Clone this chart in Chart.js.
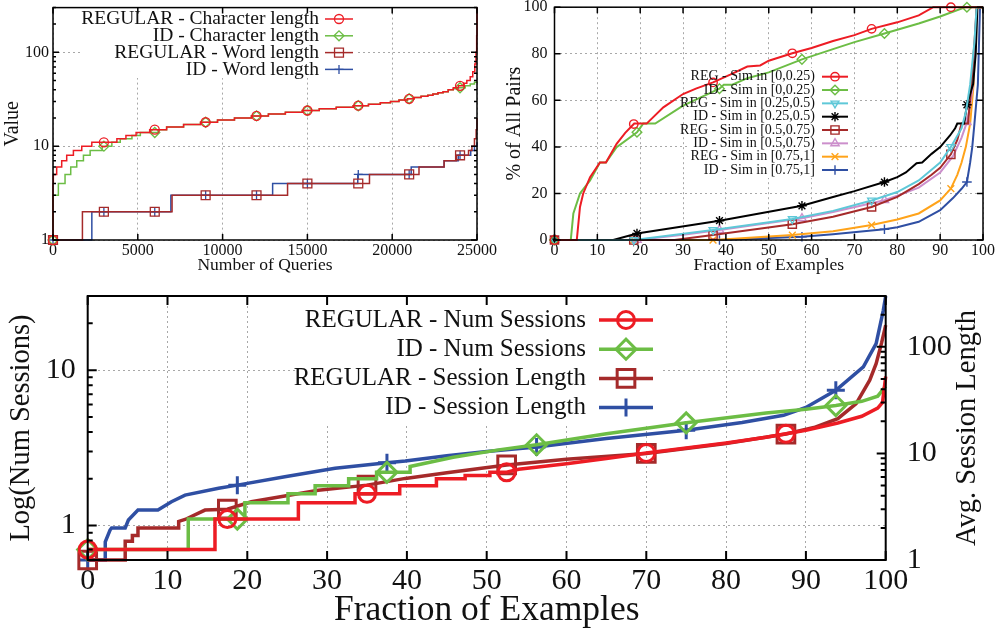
<!DOCTYPE html>
<html>
<head>
<meta charset="utf-8">
<script src="https://cdn.jsdelivr.net/npm/chart.js@4.4.1/dist/chart.umd.min.js"></script>
<style>
  html, body { margin: 0; padding: 0; background: #fff; }
  #wrap { position: relative; width: 1007px; height: 634px; overflow: hidden; }
  .pane { position: absolute; }
</style>
</head>
<body>
<div id="wrap">
  <div class="pane" style="left:0;top:0;width:500px;height:280px"><canvas id="cLen"></canvas></div>
  <div class="pane" style="left:500px;top:0;width:507px;height:280px"><canvas id="cSim"></canvas></div>
  <div class="pane" style="left:0;top:280px;width:1007px;height:354px"><canvas id="cSess"></canvas></div>
</div>
<script>
// --- query length CDF (top left) ---
const lenMarks = [0, 3000, 6000, 9000, 12000, 15000, 18000, 21000, 24000];
const regCharX = [0,0,20,217,513,808,1203,1696,2288,3000,3767,4300,4900,5700,6000,6700,7700,8700,9000,9700,10700,11700,12000,12700,13700,14700,15000,15700,16700,17700,18000,18600,19300,19900,20400,20900,21000,21300,21700,22100,22400,22700,23000,23300,23600,23900,24000,24200,24400,24600,24750,24870,24940,24980,25000];
const regCharY = [1,4,5,6,7,8,9,10,11,11,12,13,14,15,15,16,17,18,18,19,20,21,21,22,23,24,24,25,26,27,27,28,29,30,31,32,32,33,34,35,36,37,38,40,42,44,44,47,50,55,62,75,100,150,300];
const idCharX = [0,0,316,710,1045,1400,1795,2190,2900,3000,3470,3965,4655,5150,6000,6200,6700,7700,8700,9000,9700,10700,11700,12000,12700,13700,14700,15000,15700,16700,17700,18000,18600,19300,19900,20400,20900,21000,21300,21700,22100,22400,22700,23000,23300,23600,23900,24000,24300,24600,24850,25000];
const idCharY = [1,3,4,5,6,7,8,9,10,10,11,12,13,14,14,15,16,17,18,18,19,20,21,21,22,23,24,24,25,26,27,27,28,29,30,31,32,32,33,34,35,36,37,38,40,41,42,42,44,46,48,49];
const regWordX = [0,1735,3000,6000,7020,9000,12000,13830,15000,18000,18660,21000,21580,23060,23790,24000,24500,24700,24850,24950,25000];
const regWordY = [1,2,2,2,3,3,3,4,4,4,5,5,6,7,8,8,9,10,12,15,20];
const idWordX = [0,2290,3000,6000,6950,9000,12000,12950,15000,17970,18000,21000,21120,23060,23900,24000,24630,24850,25000];
const idWordY = [1,2,2,2,3,3,3,4,4,5,5,5,6,7,8,8,9,10,11];
const lenYTicks = [1, 10, 100];

// --- similarity of pairs (top right) ---
const regMarks = [0, 18.5, 37, 55.5, 74, 92.5];
const idMarks = [0, 19.25, 38.5, 57.75, 77, 96.25];
const regSimAX = [0,5.2,5.95,6.7,8.3,10.6,12,14.5,16.5,18.5,18.6,21.5,25.4,30,33,37,41,45,48,50,55.5,60,65,70,74,80,85,88.4,92.5,100];
const regSimAY = [0,0,14.2,20,27,33.3,33.3,41.3,46,49.8,50,50,57,62.7,65,67.7,71,74.5,75,77,80.2,82.5,85.5,88,90.7,93.5,96.5,100,100,100];
const idSimAX = [0,3.8,4.4,5.95,8.3,10.6,12,14.5,19.25,20.7,23.5,30,35,38.5,39.5,41.5,45,50,57.75,65,70,77,85,90,95.8,96.25,100];
const idSimAY = [0,0,11.4,20,25.6,33.3,33.3,39.9,46.3,50,50,57.7,62,65,66.7,66.7,69.5,72,77.6,82,85,88.7,93,96,100,100,100];
const regSimBX = [0,18.5,37,55.5,65,74,80,85,90,92.5,95,96,97,98,98.5,100];
const regSimBY = [0,0,4.3,9,12.5,17,20.6,25.6,33.3,40,48,55,66.7,85,100,100];
const idSimBX = [0,13.7,19.25,38.5,57.75,65,70,77,80,82,84.5,85.8,88,90,92.3,93.5,94,95.6,96.25,97.7,98.3,98.7,100];
const idSimBY = [0,0,2.8,8.3,14.7,18.5,21,24.9,27,29,33,33.3,37,39.9,44.9,48,50,50,58.1,67,80,100,100];
const regSimCX = [0,18.5,28,37,55.5,65,74,80,85,88,90,92.5,94,95,96.5,97.3,98.2,98.5,100];
const regSimCY = [0,0,0,2.1,6.8,10,14.2,18.5,24,28,31,36.8,43,50,50,66.7,90,100,100];
const idSimCX = [0,19.25,30,38.5,57.75,65,77,80,85,90,93,95,96.25,97,97.7,98.5,100];
const idSimCY = [0,0,2.2,4.3,9.3,12,17.1,19,22.5,29,36,44,50.6,58,66.7,100,100];
const regSimDX = [0,18.5,37,40,55.5,65,74,80,85,90,92.5,94,95,96,97,97.8,98.5,100];
const regSimDY = [0,0,0,0.3,2.1,3.8,6.4,8.8,11.4,17,22.1,28,33.3,40,50,66.7,100,100];
const idSimDX = [0,19.25,38.5,57.75,65,77,80,85,90,93,95,96.25,97,97.5,98,98.8,99.3,100];
const idSimDY = [0,0,0,1.4,2.5,4.6,5.5,7.8,12.8,18,22,24.9,33.3,40,50,66.7,100,100];

// --- sessions (bottom) ---
const sessRegMarks = [0, 17.5, 35, 52.5, 70, 87.5];
const sessIdMarks = [0, 18.75, 37.5, 56.25, 75, 93.75];
const regNumX = [0,15.95,15.95,17.5,26.4,26.4,33.5,33.5,35,39.1,39.1,43.7,43.7,47.3,47.3,50.4,50.4,52.5,54,60,65,70,75,80,85,87.5,90,94,97,99,99.6,100];
const regNumY = [0.7,0.7,1.1,1.1,1.1,1.4,1.4,1.6,1.6,1.6,1.8,1.8,2.0,2.0,2.1,2.1,2.2,2.2,2.3,2.5,2.7,2.93,3.15,3.4,3.7,3.9,4.1,4.57,5.05,5.7,6.2,9.1];
const idNumX = [0,12.6,12.6,18.75,19.7,19.7,25.1,25.1,28.5,28.5,32.7,32.7,36.2,36.2,37.5,40.4,40.4,45.8,51.7,56.25,65,75,85,90,93.75,97,99,100];
const idNumY = [0.7,0.7,1.1,1.1,1.1,1.4,1.4,1.6,1.6,1.8,1.8,2.0,2.0,2.2,2.2,2.2,2.4,2.75,3.08,3.31,3.9,4.58,5.3,5.6,5.92,6.3,6.8,7.9];
const regLenX = [0,4.7,4.7,5.6,5.6,6.3,6.3,11.4,11.4,12.2,14.7,17.5,20.5,24.7,28.9,35,39.8,45,52.5,60,70,80,87.5,91,94,96.3,98,98.8,99.5,100];
const regLenY = [1,1,1.5,1.5,1.7,1.7,2,2,2.3,2.4,2.94,3.0,3.52,3.98,4.52,5.04,5.83,6.6,7.8,8.8,10,12.4,15.2,17.5,21.2,29.4,48.6,69.6,110,160];
const idLenX = [0,2.2,2.2,2.8,3,4.7,5.1,6.3,8.8,10.5,12.2,16.4,18.75,24.7,31,37.5,39.8,45,50,56.25,65,75,82,87.2,90,93.75,97.2,98.8,99.7,100];
const idLenY = [1,1,1.48,1.91,2,2,2.37,2.94,2.94,3.52,4.06,4.72,5.04,6.03,7.25,8.17,8.5,9.5,10.4,11.5,13.8,16.5,19.5,22.8,27,39.1,65,107,220,300];
const sessLeftTicks = [1, 10];
const sessRightTicks = [1, 10, 100];

const SERIF = '"Liberation Serif", "DejaVu Serif", "Times New Roman", serif';
const INK = '#111';
const GRID = '#a8a8a8';
const RED = '#ed1c24', GREEN = '#6cbd45', BROWN = '#a52a2a', BLUE = '#2f4fa3';
const CYAN = '#5ec8d8', PINK = '#cc8fcc', ORANGE = '#ffa31a', BLACK = '#000';

// marker only on the first point sitting at one of the marker x positions
function markRadius(xs, marks, r) {
  return c => {
    const i = c.dataIndex, x = xs[i];
    return marks.includes(x) && (i === 0 || xs[i - 1] !== x) ? r : 0;
  };
}

function series(label, xs, ys, color, style, marks, o) {
  return {
    label,
    data: xs.map((x, i) => ({ x, y: ys[i] })),
    borderColor: color,
    backgroundColor: color,
    borderWidth: o.lw,
    stepped: o.stepped || false,
    tension: 0,
    fill: false,
    clip: false,
    pointStyle: style,
    pointRotation: o.rot || 0,
    pointRadius: markRadius(xs, marks, o.r),
    keyRadius: o.r,
    pointHoverRadius: 0,
    pointHitRadius: 0,
    pointBorderColor: color,
    pointBackgroundColor: 'rgba(0,0,0,0)',
    pointBorderWidth: o.pw,
    yAxisID: o.axis || 'y'
  };
}

function logMinor(min, max) {
  const out = [];
  for (let d = Math.floor(Math.log10(min)); d <= Math.ceil(Math.log10(max)); d++) {
    for (let m = 2; m <= 9; m++) {
      const v = m * Math.pow(10, d);
      if (v >= min * 0.999 && v <= max * 1.001) out.push(v);
    }
  }
  return out;
}

// keep the plot box where it is: no room reserved for end labels
function fixBox(size, isX) {
  return s => {
    if (isX) s.height = size; else s.width = size;
    s.paddingTop = 0; s.paddingBottom = 0; s.paddingLeft = 0; s.paddingRight = 0;
  };
}

// gnuplot style frame: border on top, ticks pointing inward
const gnuFrame = {
  id: 'gnuFrame',
  afterDatasetsDraw(chart, args, o) {
    const { ctx, chartArea: a } = chart;
    ctx.save();
    ctx.strokeStyle = '#000';
    ctx.lineWidth = o.lw;
    ctx.beginPath();
    Object.values(chart.scales).forEach(s => {
      const major = s.ticks.map(t => t.value);
      const minor = s.type === 'logarithmic' ? logMinor(s.min, s.max) : [];
      let sides;
      if (s.axis === 'x') sides = ['bottom', 'top'];
      else if (s.position === 'right') sides = ['right'];
      else sides = o.mirrorY ? ['left', 'right'] : ['left'];
      [[major, o.major], [minor, o.minor]].forEach(([vals, len]) => {
        vals.forEach(v => {
          const p = s.getPixelForValue(v);
          sides.forEach(side => {
            if (side === 'bottom') { ctx.moveTo(p, a.bottom); ctx.lineTo(p, a.bottom - len); }
            if (side === 'top') { ctx.moveTo(p, a.top); ctx.lineTo(p, a.top + len); }
            if (side === 'left') { ctx.moveTo(a.left, p); ctx.lineTo(a.left + len, p); }
            if (side === 'right') { ctx.moveTo(a.right, p); ctx.lineTo(a.right - len, p); }
          });
        });
      });
    });
    ctx.stroke();
    ctx.strokeRect(a.left, a.top, a.right - a.left, a.bottom - a.top);
    if (o.sideTitle) {
      const t = o.sideTitle;
      ctx.translate(t.x, t.y);
      ctx.rotate(-Math.PI / 2);
      ctx.font = t.font;
      ctx.fillStyle = INK;
      ctx.textAlign = 'center';
      ctx.textBaseline = 'middle';
      ctx.fillText(t.text, 0, 0);
    }
    ctx.restore();
  }
};

// key: right aligned text, line sample with marker, opaque box behind
const gnuKey = {
  id: 'gnuKey',
  beforeDatasetsDraw(chart, args, o) {
    const ctx = chart.ctx;
    ctx.save();
    ctx.fillStyle = '#fff';
    ctx.fillRect(o.box[0], o.box[1], o.box[2] - o.box[0], o.box[3] - o.box[1]);
    ctx.restore();
  },
  afterDatasetsDraw(chart, args, o) {
    const ctx = chart.ctx;
    chart.data.datasets.forEach((ds, i) => {
      const y = o.y0 + i * o.gap;
      ctx.save();
      ctx.font = o.font;
      ctx.fillStyle = INK;
      ctx.textAlign = 'right';
      ctx.textBaseline = 'middle';
      ctx.fillText(ds.label, o.textRight, y);
      ctx.strokeStyle = ds.borderColor;
      ctx.lineWidth = ds.borderWidth;
      ctx.beginPath();
      ctx.moveTo(o.x1, y);
      ctx.lineTo(o.x2, y);
      ctx.stroke();
      ctx.lineWidth = ds.pointBorderWidth;
      ctx.fillStyle = 'rgba(0,0,0,0)';
      Chart.helpers.drawPoint(ctx, {
        pointStyle: ds.pointStyle, rotation: ds.pointRotation,
        radius: ds.keyRadius, borderWidth: ds.pointBorderWidth
      }, (o.x1 + o.x2) / 2, y);
      ctx.restore();
    });
  }
};

function axisFont(size) { return { family: SERIF, size }; }
function gridOpts(show) {
  return { color: GRID, lineWidth: 1, drawTicks: false, drawOnChartArea: show !== false };
}
const noBorder = { display: false, dash: [2, 3] };

function baseOptions() {
  return {
    responsive: true,
    maintainAspectRatio: false,
    animation: false,
    devicePixelRatio: 1,
    events: [],
    plugins: { legend: { display: false }, tooltip: { enabled: false } }
  };
}

// ---------- top left ----------
const lenOpt = baseOptions();
lenOpt.layout = { padding: { left: 0, top: 5, right: 23, bottom: 0 } };
lenOpt.scales = {
  x: {
    type: 'linear', min: 0, max: 25000,
    ticks: { stepSize: 5000, padding: 1, maxRotation: 0, autoSkip: false, color: INK, font: axisFont(16), callback: v => String(v) },
    grid: gridOpts(), border: noBorder,
    title: { display: true, text: 'Number of Queries', color: INK, font: axisFont(17.5), padding: { top: 0, bottom: 4 } },
    afterFit: fixBox(40, true)
  },
  y: {
    type: 'logarithmic', min: 1, max: 300,
    afterBuildTicks: s => { s.ticks = lenYTicks.map(v => ({ value: v })); },
    ticks: { padding: 4, color: INK, font: axisFont(16), callback: v => String(v) },
    grid: gridOpts(), border: noBorder,
    title: { display: true, text: 'Value', color: INK, font: axisFont(20), padding: { top: 1, bottom: 0 } },
    afterFit: fixBox(53, false)
  }
};
lenOpt.plugins.gnuFrame = { lw: 1.5, major: 6, minor: 3, mirrorY: true };
lenOpt.plugins.gnuKey = { box: [83, 8, 357, 78], y0: 19, gap: 16.8, textRight: 319, x1: 325, x2: 353, font: '19.5px ' + SERIF };

const lenStyle = { lw: 1.5, pw: 1.3, stepped: true };
new Chart(document.getElementById('cLen'), {
  type: 'line',
  data: {
    datasets: [
      series('REGULAR - Character length', regCharX, regCharY, RED, 'circle', lenMarks, { ...lenStyle, r: 4.5 }),
      series('ID - Character length', idCharX, idCharY, GREEN, 'rectRot', lenMarks, { ...lenStyle, r: 5 }),
      series('REGULAR - Word length', regWordX, regWordY, BROWN, 'rect', lenMarks, { ...lenStyle, r: 6.3 }),
      series('ID - Word length', idWordX, idWordY, BLUE, 'cross', lenMarks, { ...lenStyle, r: 4.5 })
    ]
  },
  options: lenOpt,
  plugins: [gnuFrame, gnuKey]
});

// ---------- top right ----------
const simOpt = baseOptions();
simOpt.layout = { padding: { left: 0, top: 6, right: 24, bottom: 0 } };
simOpt.scales = {
  x: {
    type: 'linear', min: 0, max: 100,
    ticks: { stepSize: 10, padding: 1, maxRotation: 0, autoSkip: false, color: INK, font: axisFont(16), callback: v => String(v) },
    grid: gridOpts(), border: noBorder,
    title: { display: true, text: 'Fraction of Examples', color: INK, font: axisFont(17.5), padding: { top: 0, bottom: 4 } },
    afterFit: fixBox(40, true)
  },
  y: {
    type: 'linear', min: 0, max: 100,
    ticks: { stepSize: 20, padding: 7, color: INK, font: axisFont(16), callback: v => String(v) },
    grid: gridOpts(), border: noBorder,
    title: { display: true, text: '% of All Pairs', color: INK, font: axisFont(20), padding: { top: 3, bottom: 0 } },
    afterFit: fixBox(54.5, false)
  }
};
simOpt.plugins.gnuFrame = { lw: 1.5, major: 6, minor: 3, mirrorY: true };
simOpt.plugins.gnuKey = { box: [188, 68, 352, 178], y0: 76.7, gap: 13.33, textRight: 315, x1: 322, x2: 348, font: '14px ' + SERIF };

const simStyle = { lw: 2, pw: 1.4 };
new Chart(document.getElementById('cSim'), {
  type: 'line',
  data: {
    datasets: [
      series('REG - Sim in [0,0.25)', regSimAX, regSimAY, RED, 'circle', regMarks, { ...simStyle, r: 4.2 }),
      series('ID - Sim in [0,0.25)', idSimAX, idSimAY, GREEN, 'rectRot', idMarks, { ...simStyle, r: 4.8 }),
      series('REG - Sim in [0.25,0.5)', regSimBX, regSimBY, CYAN, 'triangle', regMarks, { ...simStyle, r: 4.5, rot: 180 }),
      series('ID - Sim in [0.25,0.5)', idSimBX, idSimBY, BLACK, 'star', idMarks, { ...simStyle, r: 4.8 }),
      series('REG - Sim in [0.5,0.75)', regSimCX, regSimCY, BROWN, 'rect', regMarks, { ...simStyle, r: 5.8 }),
      series('ID - Sim in [0.5,0.75)', idSimCX, idSimCY, PINK, 'triangle', idMarks, { ...simStyle, r: 4.8 }),
      series('REG - Sim in [0.75,1]', regSimDX, regSimDY, ORANGE, 'crossRot', regMarks, { ...simStyle, r: 4.8 }),
      series('ID - Sim in [0.75,1]', idSimDX, idSimDY, BLUE, 'cross', idMarks, { ...simStyle, r: 4.8 })
    ]
  },
  options: simOpt,
  plugins: [gnuFrame, gnuKey]
});

// ---------- bottom ----------
const sessOpt = baseOptions();
sessOpt.layout = { padding: { left: 0, top: 16, right: 0, bottom: 0 } };
sessOpt.scales = {
  x: {
    type: 'linear', min: 0, max: 100,
    ticks: { stepSize: 10, padding: 3, maxRotation: 0, autoSkip: false, color: INK, font: axisFont(30), callback: v => String(v) },
    grid: gridOpts(), border: noBorder,
    title: { display: true, text: 'Fraction of Examples', color: INK, font: axisFont(35.5), padding: { top: 0, bottom: 2.5 } },
    afterFit: fixBox(74, true)
  },
  y: {
    type: 'logarithmic', position: 'left', min: 0.6, max: 30,
    afterBuildTicks: s => { s.ticks = sessLeftTicks.map(v => ({ value: v })); },
    ticks: { padding: 12, color: INK, font: axisFont(30), callback: v => String(v) },
    grid: gridOpts(), border: noBorder,
    title: { display: true, text: 'Log(Num Sessions)', color: INK, font: axisFont(28.5), padding: { top: 4.5, bottom: 0 } },
    afterFit: fixBox(87.7, false)
  },
  y1: {
    type: 'logarithmic', position: 'right', min: 1, max: 300,
    afterBuildTicks: s => { s.ticks = sessRightTicks.map(v => ({ value: v })); },
    ticks: { padding: 21, color: INK, font: axisFont(30), callback: v => String(v) },
    grid: gridOpts(false), border: noBorder,
    afterFit: fixBox(121.3, false)
  }
};
sessOpt.plugins.gnuFrame = {
  lw: 2, major: 9, minor: 5, mirrorY: false,
  sideTitle: { text: 'Avg. Session Length', x: 968, y: 148, font: '28.5px ' + SERIF }
};
sessOpt.plugins.gnuKey = { box: [295, 20, 663, 143], y0: 40, gap: 29.2, textRight: 586, x1: 599, x2: 653, font: '25px ' + SERIF };

const sessStyle = { lw: 3.5, pw: 3 };
new Chart(document.getElementById('cSess'), {
  type: 'line',
  data: {
    datasets: [
      series('REGULAR - Num Sessions', regNumX, regNumY, RED, 'circle', sessRegMarks, { ...sessStyle, r: 8.5, axis: 'y' }),
      series('ID - Num Sessions', idNumX, idNumY, GREEN, 'rectRot', sessIdMarks, { ...sessStyle, r: 10, axis: 'y' }),
      series('REGULAR - Session Length', regLenX, regLenY, BROWN, 'rect', sessRegMarks, { ...sessStyle, r: 12.5, axis: 'y1' }),
      series('ID - Session Length', idLenX, idLenY, BLUE, 'cross', sessIdMarks, { ...sessStyle, r: 9, axis: 'y1' })
    ]
  },
  options: sessOpt,
  plugins: [gnuFrame, gnuKey]
});
</script>
</body>
</html>
